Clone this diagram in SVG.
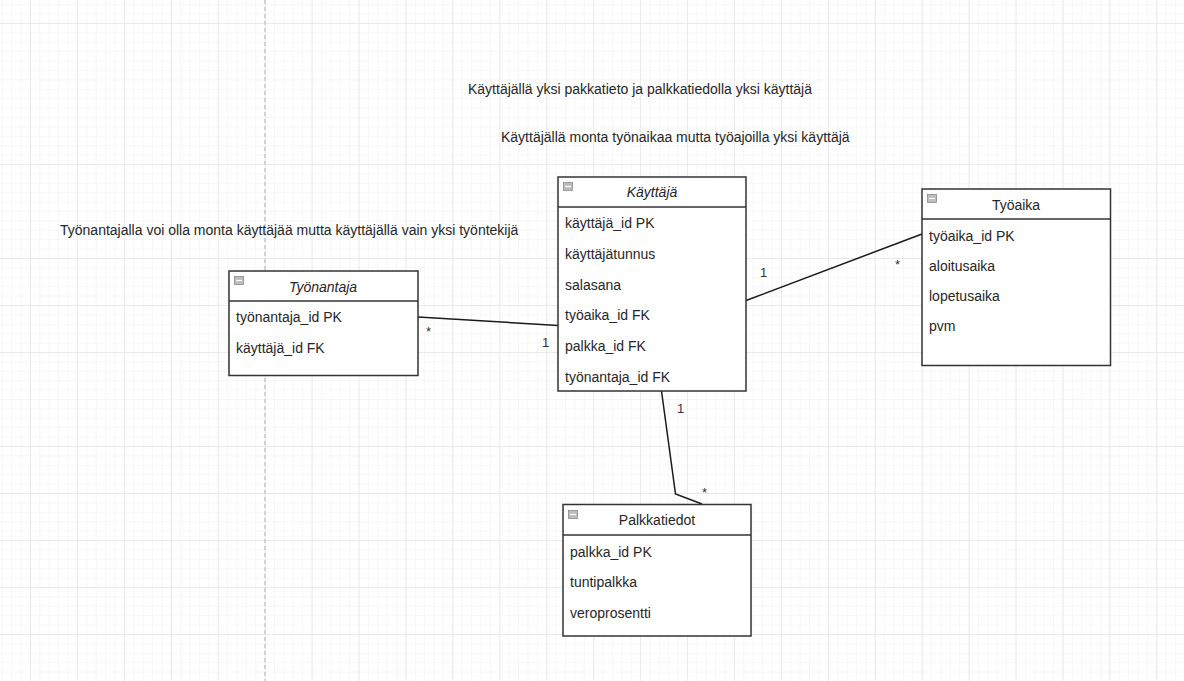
<svg xmlns="http://www.w3.org/2000/svg" width="1184" height="681" viewBox="0 0 1184 681">
<defs>
<pattern id="minor" x="30" y="23" width="9.386" height="9.4" patternUnits="userSpaceOnUse">
<path d="M0 0 V9.4 M0 0 H9.386" fill="none" stroke="#efefef" stroke-width="1"/>
</pattern>
<pattern id="major" x="30" y="23" width="46.93" height="47" patternUnits="userSpaceOnUse">
<path d="M0 0 V47 M0 0 H46.93" fill="none" stroke="#dedede" stroke-width="1"/>
</pattern>
<g id="icon">
<rect x="0" y="0" width="9" height="8" fill="#bdbdbd" stroke="#8a8a8a" stroke-width="0.8"/>
<line x1="1.5" y1="4" x2="7.5" y2="4" stroke="#ffffff" stroke-width="1.2"/>
</g>
</defs>
<style>
text{font-family:"Liberation Sans",Arial,sans-serif;font-size:14px;fill:#262626}
.hdr{text-anchor:middle}
.it{font-style:italic}
.box{fill:#ffffff;stroke:#333333;stroke-width:1.5}
.sep{stroke:#333333;stroke-width:1.5}
.conn{fill:none;stroke:#1a1a1a;stroke-width:1.5}
.lbl{font-size:13px;fill:#333333}
</style>
<rect width="1184" height="681" fill="#ffffff"/>
<rect width="1184" height="681" fill="url(#minor)"/>
<rect width="1184" height="681" fill="url(#major)"/>
<line x1="265" y1="0" x2="265" y2="681" stroke="#bdbdbd" stroke-width="1.2" stroke-dasharray="4 3"/>

<g id="notes">
<text x="468" y="94">Käyttäjällä yksi pakkatieto ja palkkatiedolla yksi käyttäjä</text>
<text x="501" y="142">Käyttäjällä monta työnaikaa mutta työajoilla yksi käyttäjä</text>
<text x="60" y="235">Työnantajalla voi olla monta käyttäjää mutta käyttäjällä vain yksi työntekijä</text>
</g>

<g id="connectors">
<polyline class="conn" points="418,317 558,325.5"/>
<polyline class="conn" points="746,300.5 922,234"/>
<polyline class="conn" points="661.5,391 675.5,494 702,504"/>
<text class="lbl" x="426" y="336">*</text>
<text class="lbl" x="542" y="347">1</text>
<text class="lbl" x="760" y="277">1</text>
<text class="lbl" x="895" y="269">*</text>
<text class="lbl" x="677" y="413">1</text>
<text class="lbl" x="702" y="497">*</text>
</g>

<g id="kayttaja">
<rect class="box" x="558" y="177" width="188" height="214"/>
<line class="sep" x1="558" y1="207" x2="746" y2="207"/>
<use href="#icon" x="563.5" y="182.5"/>
<text class="hdr it" x="652" y="197">Käyttäjä</text>
<text x="565" y="228">käyttäjä_id PK</text>
<text x="565" y="259">käyttäjätunnus</text>
<text x="565" y="289.5">salasana</text>
<text x="565" y="320">työaika_id FK</text>
<text x="565" y="351">palkka_id FK</text>
<text x="565" y="382">työnantaja_id FK</text>
</g>

<g id="tyoaika">
<rect class="box" x="922" y="189" width="188.5" height="176.5"/>
<line class="sep" x1="922" y1="219" x2="1110.5" y2="219"/>
<use href="#icon" x="927.5" y="194.5"/>
<text class="hdr" x="1016" y="210">Työaika</text>
<text x="929" y="241">työaika_id PK</text>
<text x="929" y="271">aloitusaika</text>
<text x="929" y="301">lopetusaika</text>
<text x="929" y="331">pvm</text>
</g>

<g id="tyonantaja">
<rect class="box" x="229" y="271" width="189" height="104.5"/>
<line class="sep" x1="229" y1="301" x2="418" y2="301"/>
<use href="#icon" x="234.5" y="276.5"/>
<text class="hdr it" x="323" y="292">Työnantaja</text>
<text x="236" y="322">työnantaja_id PK</text>
<text x="236" y="353">käyttäjä_id FK</text>
</g>

<g id="palkkatiedot">
<rect class="box" x="563" y="504.5" width="188" height="131.5"/>
<line class="sep" x1="563" y1="535" x2="751" y2="535"/>
<use href="#icon" x="568.5" y="510.5"/>
<text class="hdr" x="657" y="525">Palkkatiedot</text>
<text x="570" y="557">palkka_id PK</text>
<text x="570" y="586.5">tuntipalkka</text>
<text x="570" y="618">veroprosentti</text>
</g>
</svg>
